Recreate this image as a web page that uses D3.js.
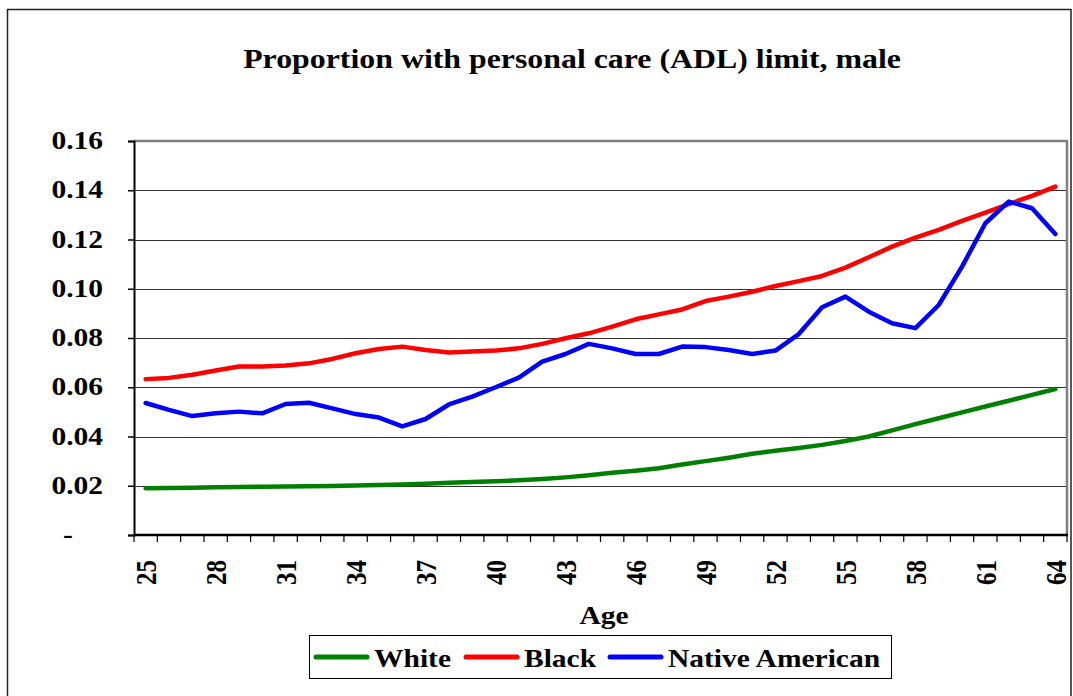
<!DOCTYPE html>
<html>
<head>
<meta charset="utf-8">
<script src="https://cdn.jsdelivr.net/npm/d3@7"></script>
<style>
  html, body { margin: 0; padding: 0; background: #fff; }
  svg { display: block; }
  text { font-family: "Liberation Serif", "Times New Roman", serif; font-weight: bold; fill: #000; }
</style>
</head>
<body>
<svg id="chart" width="1073" height="696"></svg>
<script>
const title = "Proportion with personal care (ADL) limit, male";
const xTitle = "Age";
const ages = [25,26,27,28,29,30,31,32,33,34,35,36,37,38,39,40,41,42,43,44,45,46,47,48,49,50,51,52,53,54,55,56,57,58,59,60,61,62,63,64];
const xTickLabels = [25,28,31,34,37,40,43,46,49,52,55,58,61,64];
const yTicks = [0,0.02,0.04,0.06,0.08,0.10,0.12,0.14,0.16];
const yTickLabels = ["-","0.02","0.04","0.06","0.08","0.10","0.12","0.14","0.16"];
const seriesNames = ["White","Black","Native American"];
const seriesColors = ["#008000","#ff0000","#0000ff"];
const white = [0.0190,0.0191,0.0192,0.0194,0.0195,0.0196,0.0197,0.0198,0.0199,0.0201,
               0.0203,0.0205,0.0208,0.0212,0.0215,0.0218,0.0222,0.0227,0.0234,0.0243,
               0.0253,0.0261,0.0271,0.0286,0.0300,0.0314,0.0330,0.0342,0.0353,0.0366,
               0.0382,0.0400,0.0425,0.0450,0.0474,0.0498,0.0522,0.0545,0.0569,0.0593];
const black = [0.0633,0.0638,0.0651,0.0668,0.0684,0.0684,0.0688,0.0697,0.0715,0.0738,
               0.0755,0.0765,0.0751,0.0741,0.0745,0.0749,0.0758,0.0776,0.0799,0.0819,
               0.0846,0.0876,0.0896,0.0916,0.0950,0.0968,0.0988,0.1011,0.1031,0.1052,
               0.1086,0.1128,0.1171,0.1208,0.1239,0.1276,0.1309,0.1344,0.1377,0.1415];
const native = [0.0536,0.0508,0.0483,0.0494,0.0501,0.0494,0.0532,0.0537,0.0514,0.0491,
                0.0477,0.0441,0.0471,0.0530,0.0562,0.0600,0.0639,0.0704,0.0735,0.0776,
                0.0758,0.0735,0.0735,0.0765,0.0763,0.0751,0.0735,0.0749,0.0816,0.0925,
                0.0968,0.0907,0.0860,0.0840,0.0934,0.1090,0.1266,0.1354,0.1327,0.1222];
const seriesValues = [white, black, native];

const SX = 1.18; // horizontal text stretch of the reference
const svg = d3.select("#chart");
const plot = {left: 134, right: 1067, top: 141, bottom: 535};

function stext(g, x, y, str, size, anchor, rot) {
  return g.append("text")
    .attr("transform", `translate(${x},${y}) scale(${SX},1)` + (rot ? ` rotate(${rot})` : ""))
    .attr("text-anchor", anchor)
    .style("font-size", size + "px")
    .text(str);
}

// outer frame
svg.append("rect").attr("x", 7.5).attr("y", 9.5).attr("width", 1063.5).attr("height", 700)
  .attr("fill", "#fff").attr("stroke", "#222").attr("stroke-width", 1.5);

// title
stext(svg, 572, 68, title, 27, "middle");

const x = d3.scaleBand().domain(ages).range([plot.left, plot.right]).padding(0);
const y = d3.scaleLinear().domain([0, 0.16]).range([plot.bottom, plot.top]);

// gridlines
svg.append("g").selectAll("line").data(yTicks.filter(d => d > 0 && d < 0.16)).join("line")
  .attr("x1", plot.left).attr("x2", plot.right)
  .attr("y1", d => Math.round(y(d)) + 0.5).attr("y2", d => Math.round(y(d)) + 0.5)
  .attr("stroke", "#333").attr("stroke-width", 1.2);

// plot frame (top & right gray)
svg.append("path")
  .attr("d", `M${plot.left},${plot.top} H${plot.right} V${plot.bottom}`)
  .attr("fill", "none").attr("stroke", "#808080").attr("stroke-width", 2.5);

// y axis
const yAxis = d3.axisLeft(y).tickValues(yTicks).tickSize(6).tickFormat("");
const gy = svg.append("g").attr("transform", `translate(${plot.left},0)`).call(yAxis);
gy.select(".domain").attr("stroke", "#000").attr("stroke-width", 2);
gy.selectAll(".tick line").attr("stroke", "#000").attr("stroke-width", 1.5);
yTicks.forEach((t, i) => {
  if (t === 0) {
    stext(svg, 68, y(t) + 8, yTickLabels[i], 25, "middle");
  } else {
    stext(svg, 103, y(t) + 8, yTickLabels[i], 25, "end");
  }
});

// x axis with ticks between categories
const edges = ages.map(a => x(a)).concat([plot.right]);
const gx = svg.append("g");
gx.append("line").attr("x1", plot.left).attr("x2", plot.right + 1)
  .attr("y1", plot.bottom).attr("y2", plot.bottom).attr("stroke", "#000").attr("stroke-width", 2.5);
gx.selectAll("line.tk").data(edges).join("line").attr("class", "tk")
  .attr("x1", d => d).attr("x2", d => d).attr("y1", plot.bottom).attr("y2", plot.bottom + 7)
  .attr("stroke", "#000").attr("stroke-width", 1.2);
xTickLabels.forEach(a => {
  const cx = x(a) + x.bandwidth() / 2;
  stext(gx, cx, 560, String(a), 25, "end", -90).attr("dy", "0.35em");
});

// x title
stext(svg, 604, 624, xTitle, 25, "middle");

// series lines
const line = d3.line().x((d, i) => x(ages[i]) + x.bandwidth() / 2).y(d => y(d));
seriesValues.forEach((vals, k) => {
  svg.append("path").datum(vals).attr("d", line)
    .attr("fill", "none").attr("stroke", seriesColors[k]).attr("stroke-width", 4.5)
    .attr("stroke-linejoin", "round").attr("stroke-linecap", "round");
});

// legend
const lg = svg.append("g");
lg.append("rect").attr("x", 309.5).attr("y", 635.5).attr("width", 582).attr("height", 43)
  .attr("fill", "#fff").attr("stroke", "#000").attr("stroke-width", 1);
const legendX = [316, 466, 610];
seriesNames.forEach((n, k) => {
  lg.append("line").attr("x1", legendX[k]).attr("x2", legendX[k] + 51)
    .attr("y1", 657).attr("y2", 657).attr("stroke", seriesColors[k]).attr("stroke-width", 5)
    .attr("stroke-linecap", "round");
  stext(lg, legendX[k] + 58, 667, n, 25, "start");
});
</script>
</body>
</html>
